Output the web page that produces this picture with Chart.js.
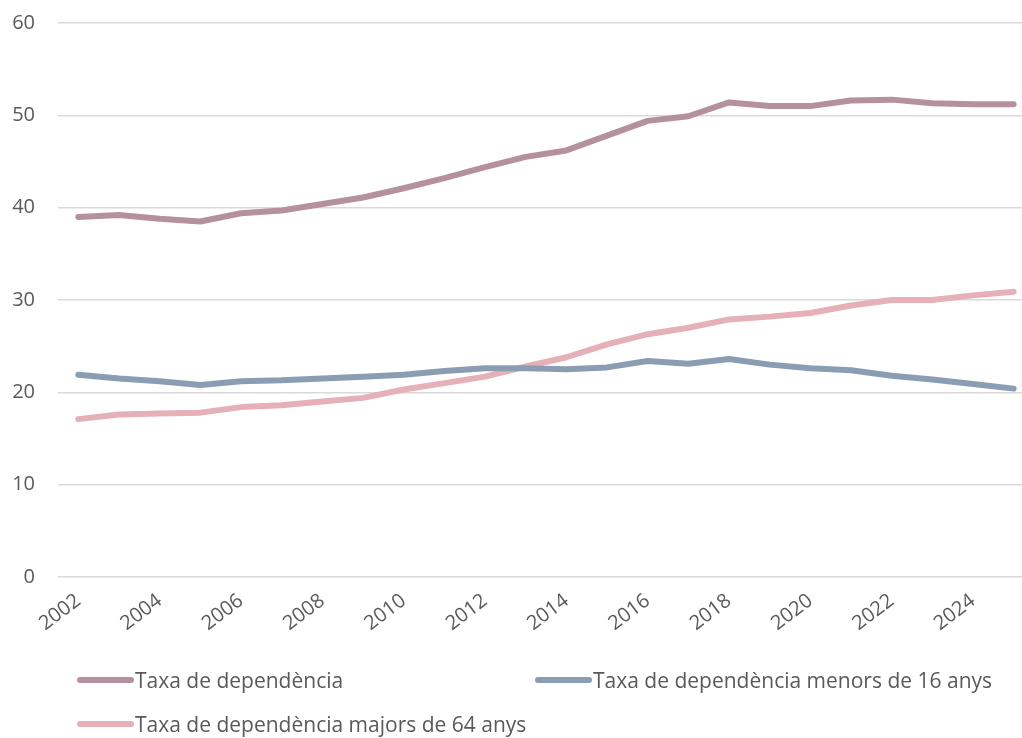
<!DOCTYPE html>
<html>
<head>
<meta charset="utf-8">
<script src="https://cdn.jsdelivr.net/npm/chart.js@4/dist/chart.umd.min.js"></script>
<style>
    html, body { margin: 0; padding: 0; background: #fff; overflow: hidden; }
    body { width: 1022px; height: 738px; position: relative; font-family: "Open Sans", sans-serif; }
    #wrap { position: absolute; left: 0; top: 0; width: 1034px; height: 650px; }
    #legend { position: absolute; left: 0; top: 0; width: 1022px; height: 738px; pointer-events: none; }
    .item { position: absolute; display: flex; align-items: center; font-size: 21px; color: #595959; white-space: nowrap; }
    .swatch { width: 57px; height: 6px; border-radius: 3px; margin-right: 1px; }
</style>
</head>
<body>
<div id="wrap"><canvas id="chart"></canvas></div>
<div id="legend"></div>
<script>
// dependency ratios, 2002-2025
const years = ['2002', '2003', '2004', '2005', '2006', '2007', '2008', '2009', '2010', '2011', '2012', '2013',
    '2014', '2015', '2016', '2017', '2018', '2019', '2020', '2021', '2022', '2023', '2024', '2025'];

const totalRatio = [39.0, 39.2, 38.8, 38.5, 39.4, 39.7, 40.4, 41.1, 42.1, 43.2, 44.4, 45.5,
    46.2, 47.8, 49.4, 49.9, 51.4, 51.0, 51.0, 51.6, 51.7, 51.3, 51.2, 51.2];
const under16Ratio = [21.9, 21.5, 21.2, 20.8, 21.2, 21.3, 21.5, 21.7, 21.9, 22.3, 22.6, 22.6,
    22.5, 22.7, 23.4, 23.1, 23.6, 23.0, 22.6, 22.4, 21.8, 21.4, 20.9, 20.4];
const over64Ratio = [17.1, 17.6, 17.7, 17.8, 18.4, 18.6, 19.0, 19.4, 20.3, 21.0, 21.7, 22.8,
    23.8, 25.2, 26.3, 27.0, 27.9, 28.2, 28.6, 29.4, 30.0, 30.0, 30.5, 30.9];

const seriesNames = ['Taxa de dependència', 'Taxa de dependència menors de 16 anys', 'Taxa de dependència majors de 64 anys'];
const seriesColors = ['#B5919C', '#8A9DB3', '#E5B0B8'];

const yTicks = [0, 10, 20, 30, 40, 50, 60];

// legend spots, like the spreadsheet layout
const legendSpots = [[77, 666], [535, 666], [77, 710]];

const FONT = '"Open Sans", sans-serif';
const TEXT = '#595959';

function initChart() {
    const ctx = document.getElementById('chart');
    const series = [totalRatio, under16Ratio, over64Ratio];

    new Chart(ctx, {
        type: 'line',
        data: {
            labels: years,
            datasets: series.map((values, i) => ({
                label: seriesNames[i],
                data: values,
                borderColor: seriesColors[i],
                backgroundColor: seriesColors[i],
                borderWidth: 6,
                borderCapStyle: 'round',
                borderJoinStyle: 'round',
                pointRadius: 0,
                tension: 0,
            }))
        },
        options: {
            responsive: true,
            maintainAspectRatio: false,
            animation: false,
            layout: { padding: { top: 23, bottom: 3, left: 0, right: 0 } },
            plugins: {
                legend: { display: false },
                tooltip: { enabled: false }
            },
            scales: {
                x: {
                    type: 'category',
                    offset: true,
                    grid: { display: false },
                    border: { display: false },
                    ticks: {
                        autoSkip: false,
                        minRotation: 37,
                        maxRotation: 37,
                        color: TEXT,
                        font: { family: FONT, size: 20 },
                        padding: 4,
                        callback: (val, i) => (i % 2 === 0 ? years[i] : '')
                    },
                    afterFit: scale => { scale.height = 70; }
                },
                y: {
                    min: yTicks[0],
                    max: yTicks[yTicks.length - 1],
                    afterBuildTicks: scale => { scale.ticks = yTicks.map(v => ({ value: v })); },
                    grid: { color: '#D9D9D9', lineWidth: 1.5, drawTicks: false },
                    border: { display: false },
                    ticks: {
                        color: TEXT,
                        font: { family: FONT, size: 20 },
                        padding: 23
                    },
                    // fixed axis width; drop the extra top/bottom padding the tick padding adds
                    afterFit: scale => {
                        scale.width = 58;
                        scale.paddingTop = 0;
                        scale.paddingBottom = 0;
                    }
                }
            }
        }
    });

    const legend = document.getElementById('legend');
    seriesNames.forEach((name, i) => {
        const item = document.createElement('div');
        item.className = 'item';
        item.style.left = legendSpots[i][0] + 'px';
        item.style.top = legendSpots[i][1] + 'px';
        item.innerHTML = `<span class="swatch" style="background:${seriesColors[i]}"></span>${name}`;
        legend.appendChild(item);
    });
}

initChart();
</script>
</body>
</html>
